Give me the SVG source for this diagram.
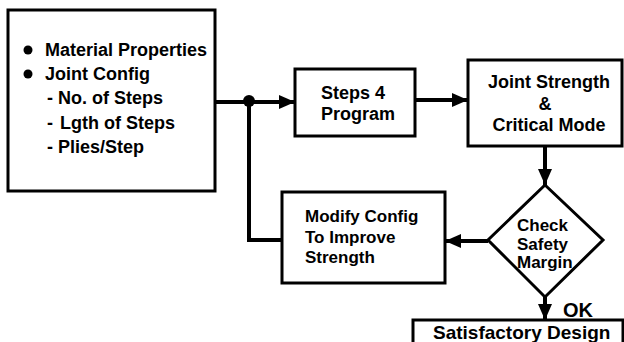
<svg xmlns="http://www.w3.org/2000/svg" width="624" height="342" viewBox="0 0 624 342">
<defs>
<marker id="ah" markerUnits="userSpaceOnUse" markerWidth="16" markerHeight="16" viewBox="0 0 16 16" refX="16" refY="8" orient="auto">
<path d="M0,1 L16,8 L0,15 Z" fill="#000"/>
</marker>
<style>
.box{fill:#fff;stroke:#000;stroke-width:3}
.t{font-family:"Liberation Sans",Arial,sans-serif;font-weight:bold;font-size:18px;fill:#000}
.c{stroke:#000;stroke-width:4;fill:none}
</style>
</defs>
<rect width="624" height="342" fill="#fff"/>
<g id="input">
<rect class="box" x="8" y="10" width="207" height="181"/>
<circle cx="28" cy="50" r="4.5"/>
<circle cx="28" cy="74" r="4.5"/>
<text class="t" x="45" y="56">Material Properties</text>
<text class="t" x="45" y="80">Joint Config</text>
<text class="t" x="47" y="104">-</text>
<text class="t" x="58" y="104">No. of Steps</text>
<text class="t" x="47" y="129">-</text>
<text class="t" x="60" y="129">Lgth of Steps</text>
<text class="t" x="47" y="153">-</text>
<text class="t" x="58" y="153">Plies/Step</text>
</g>
<g id="steps">
<rect class="box" x="295" y="69" width="120" height="67"/>
<text class="t" x="321" y="99">Steps 4</text>
<text class="t" x="321" y="120">Program</text>
</g>
<g id="joint">
<rect class="box" x="468" y="60" width="154" height="86"/>
<text class="t" x="549" y="88" text-anchor="middle">Joint Strength</text>
<text class="t" x="545" y="110" text-anchor="middle">&amp;</text>
<text class="t" x="549" y="131" text-anchor="middle">Critical Mode</text>
</g>
<g id="check">
<path class="box" d="M545,185 L603,240 L545,297 L488,240 Z"/>
<text class="t" x="517" y="231" style="font-size:17px">Check</text>
<text class="t" x="517" y="250" style="font-size:17px">Safety</text>
<text class="t" x="517" y="268" style="font-size:17px">Margin</text>
</g>
<g id="modify">
<rect class="box" x="282" y="192" width="163" height="91"/>
<text class="t" x="305" y="222" style="font-size:17px">Modify Config</text>
<text class="t" x="305" y="243" style="font-size:17px">To Improve</text>
<text class="t" x="305" y="263" style="font-size:17px">Strength</text>
</g>
<g id="satisfactory">
<rect class="box" x="413" y="320" width="210" height="30"/>
<text class="t" x="433" y="339" style="font-size:19px">Satisfactory Design</text>
</g>
<g id="connectors">
<line class="c" x1="215" y1="102" x2="295" y2="102" marker-end="url(#ah)"/>
<circle cx="249" cy="101" r="6"/>
<polyline class="c" points="282,240 249,240 249,101"/>
<line class="c" x1="415" y1="100" x2="468" y2="100" marker-end="url(#ah)"/>
<line class="c" x1="545" y1="146" x2="545" y2="185" marker-end="url(#ah)"/>
<line class="c" x1="488" y1="241" x2="445" y2="241" marker-end="url(#ah)"/>
<line class="c" x1="545" y1="297" x2="545" y2="320" marker-end="url(#ah)"/>
<text class="t" x="563" y="317" style="font-size:20px">OK</text>
</g>
</svg>
